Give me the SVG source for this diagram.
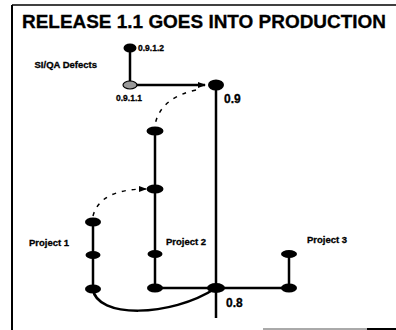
<svg xmlns="http://www.w3.org/2000/svg" width="396" height="330" viewBox="0 0 396 330">
<style>
.ln{stroke:#000;stroke-width:2.5;fill:none}
.ds{stroke:#000;stroke-width:1.5;fill:none;stroke-dasharray:4 6}
.nd{fill:#000}
.t{font-family:"Liberation Sans",Arial,sans-serif;font-weight:bold;fill:#000;stroke:#000;stroke-width:0.3}
.s{font-size:8.5px}
.p{font-size:9.5px}
.v{font-size:12px}
</style>
<defs>
<marker id="ah" markerWidth="8" markerHeight="6" refX="7" refY="3" orient="auto" markerUnits="userSpaceOnUse">
<path d="M0,0 L8,3 L0,6 Z" fill="#000"/>
</marker>
</defs>
<g id="frame">
<line x1="12" y1="5" x2="396" y2="5" stroke="#000" stroke-width="1.5"/>
<line x1="12" y1="5" x2="12" y2="330" stroke="#000" stroke-width="2"/>
<line x1="263" y1="329" x2="396" y2="329" stroke="#555" stroke-width="1"/>
<line x1="367" y1="329" x2="396" y2="329" stroke="#000" stroke-width="2"/>
</g>
<text id="title" class="t" x="22" y="28" font-size="18.5" stroke-width="0.5" textLength="364" lengthAdjust="spacingAndGlyphs">RELEASE 1.1 GOES INTO PRODUCTION</text>
<g id="connectors">
<line class="ln" x1="130" y1="48" x2="130" y2="85"/>
<line class="ln" x1="130" y1="85" x2="205" y2="85" marker-end="url(#ah)"/>
<line class="ln" x1="216" y1="85" x2="216" y2="318"/>
<line class="ln" x1="155" y1="131" x2="155" y2="288"/>
<line class="ln" x1="93" y1="222" x2="93" y2="289"/>
<line class="ln" x1="155" y1="288" x2="289" y2="288"/>
<line class="ln" x1="289" y1="254" x2="289" y2="288"/>
<path class="ln" d="M93,289 C96,318 170,318 216,288"/>
<path class="ds" d="M196,90 Q160,98 155,125"/>
<path class="ds" d="M93,216 Q100,189 146,189" marker-end="url(#ah)"/>
</g>
<g id="n0912"><ellipse class="nd" cx="130" cy="48" rx="6.5" ry="4.5"/><text class="t s" x="138" y="51">0.9.1.2</text></g>
<g id="sqa"><text class="t" x="97" y="68" text-anchor="end" font-size="9.5">SI/QA Defects</text></g>
<g id="n0911"><ellipse cx="130" cy="85" rx="7" ry="4" fill="#999" stroke="#000" stroke-width="1.2"/><text class="t s" x="116" y="101">0.9.1.1</text></g>
<g id="n09"><ellipse class="nd" cx="216" cy="85" rx="8" ry="5.5"/><text class="t v" x="224" y="103">0.9</text></g>
<g id="p2a"><ellipse class="nd" cx="155" cy="131" rx="8.5" ry="4.5"/></g>
<g id="p2b"><ellipse class="nd" cx="155" cy="189" rx="8.5" ry="4.5"/></g>
<g id="p2c"><ellipse class="nd" cx="155" cy="254" rx="7.5" ry="4"/></g>
<g id="p2d"><ellipse class="nd" cx="155" cy="288" rx="8" ry="4.5"/></g>
<g id="p2lbl"><text class="t p" x="166" y="245">Project 2</text></g>
<g id="p1a"><ellipse class="nd" cx="93" cy="222" rx="8" ry="4.5"/></g>
<g id="p1b"><ellipse class="nd" cx="93" cy="255" rx="7.5" ry="4"/></g>
<g id="p1c"><ellipse class="nd" cx="93" cy="289" rx="8" ry="4.5"/></g>
<g id="p1lbl"><text class="t p" x="29" y="246">Project 1</text></g>
<g id="n08"><ellipse class="nd" cx="216" cy="288" rx="9" ry="5"/><text class="t v" x="226" y="307">0.8</text></g>
<g id="p3a"><ellipse class="nd" cx="289" cy="254" rx="8" ry="4"/></g>
<g id="p3b"><ellipse class="nd" cx="289" cy="288" rx="8" ry="4.5"/></g>
<g id="p3lbl"><text class="t p" x="307" y="243">Project 3</text></g>
</svg>
